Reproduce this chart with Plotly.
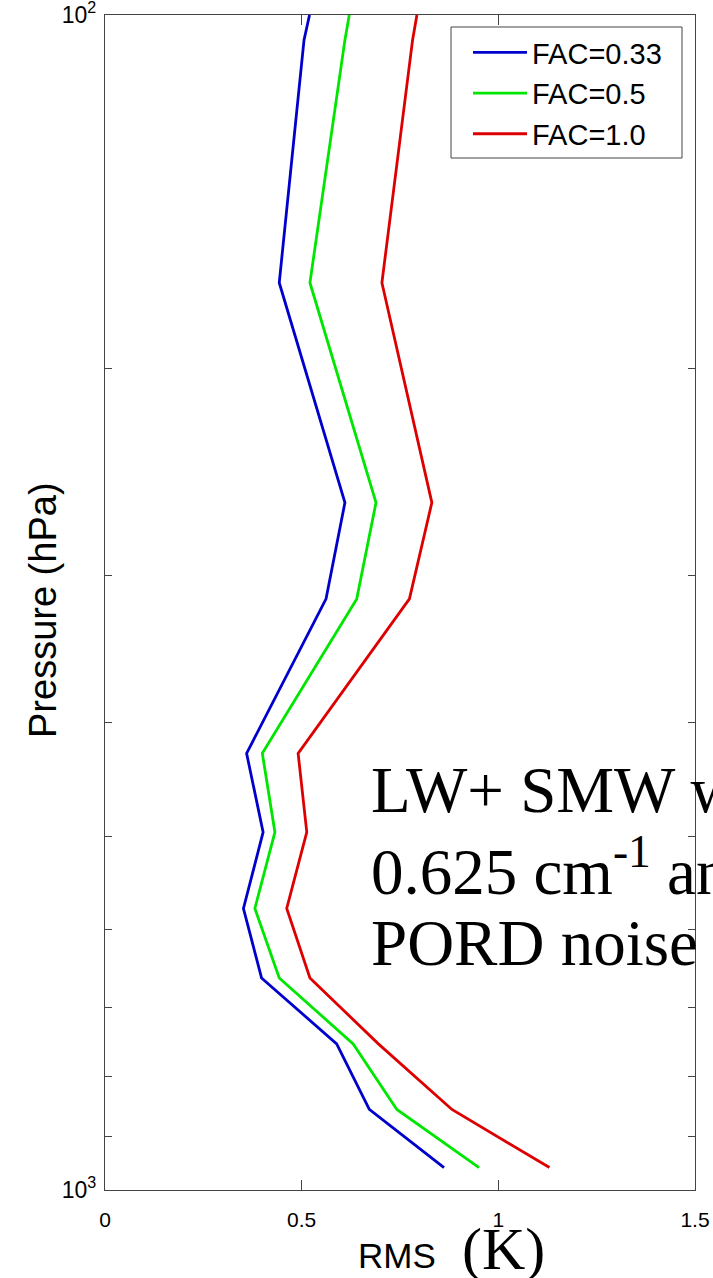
import plotly.graph_objects as go

# ---- data ----
pressure = [100, 105, 169, 260, 314, 425, 496, 576, 660, 751, 854, 957]
fac_033 = [0.520, 0.506, 0.443, 0.610, 0.562, 0.360, 0.402, 0.352, 0.398, 0.589, 0.672, 0.862]
fac_05 = [0.621, 0.610, 0.521, 0.689, 0.640, 0.400, 0.432, 0.381, 0.443, 0.631, 0.742, 0.951]
fac_10 = [0.793, 0.782, 0.704, 0.831, 0.774, 0.491, 0.513, 0.462, 0.521, 0.695, 0.882, 1.130]

series_names = ["FAC=0.33", "FAC=0.5", "FAC=1.0"]
series_values = [fac_033, fac_05, fac_10]
series_colors = ["#0000cc", "#00e600", "#dd0000"]

x_tickvals = [0, 0.5, 1, 1.5]
x_ticktext = ["0", "0.5", "1", "1.5"]
y_tickvals = [100, 1000]
y_ticktext = ["10<sup>2</sup>", "10<sup>3</sup>"]
y_minor_tickvals = [200, 300, 400, 500, 600, 700, 800, 900]

note_lines = ["LW+ SMW with", "0.625 cm<sup>-1</sup> and", "PORD noise reduced"]

SANS = "Liberation Sans, Arial, sans-serif"
SERIF = "Liberation Serif, Times New Roman, serif"

# plot-area pixel frame (for placing paper-referenced decorations)
PL, PR, PT, PB = 105, 695, 15, 1190


def px(xp):
    return (xp - PL) / (PR - PL)


def py(yp):
    return (PB - yp) / (PB - PT)


fig = go.Figure()
for i, (name, vals, col) in enumerate(zip(series_names, series_values, series_colors)):
    fig.add_trace(go.Scatter(
        x=vals, y=pressure, mode="lines", name=name,
        line=dict(color=col, width=2.8), legendgroup=f"g{i}",
    ))

fig.update_layout(
    width=713, height=1278,
    margin=dict(l=PL, r=713 - PR, t=PT, b=1278 - PB),
    paper_bgcolor="white", plot_bgcolor="white",
    font=dict(family=SANS, color="black"),
    showlegend=True,
    legend=dict(
        x=px(468), y=py(27), xanchor="left", yanchor="top",
        bgcolor="rgba(0,0,0,0)", borderwidth=0,
        font=dict(family=SANS, size=29, color="black"),
        tracegroupgap=0, itemwidth=54,
    ),
    xaxis=dict(
        range=[0, 1.5], tickvals=x_tickvals, ticktext=x_ticktext,
        ticks="inside", ticklen=10, tickcolor="#444",
        showline=True, linecolor="#444", linewidth=1.2, mirror="ticks",
        showgrid=False, zeroline=False, automargin=False,
        tickfont=dict(family=SANS, size=21, color="black"),
        ticklabelstandoff=11, ticklabeloverflow="allow",
    ),
    yaxis=dict(
        type="log", range=[3, 2], tickvals=y_tickvals, ticktext=y_ticktext,
        ticks="inside", ticklen=7, tickcolor="#444",
        minor=dict(tickvals=y_minor_tickvals, ticks="inside", ticklen=7,
                   tickcolor="#444", showgrid=False),
        showline=True, linecolor="#444", linewidth=1.2, mirror="ticks",
        showgrid=False, zeroline=False, automargin=False,
        tickfont=dict(family=SANS, size=23, color="black"),
        ticklabelstandoff=3, ticklabeloverflow="allow",
    ),
)

# legend frame
fig.add_shape(type="rect", xref="paper", yref="paper",
              x0=px(451), x1=px(682), y0=py(158), y1=py(27),
              fillcolor="white", line=dict(color="#444", width=1), layer="above")

# axis titles
fig.add_annotation(xref="paper", yref="paper", x=px(43), y=py(610),
                   text="Pressure (hPa)", textangle=-90, showarrow=False,
                   font=dict(family=SANS, size=38, color="black"),
                   xanchor="center", yanchor="middle")
fig.add_annotation(xref="paper", yref="paper", x=px(356), y=py(1255),
                   text="RMS", showarrow=False,
                   font=dict(family=SANS, size=35, color="black"),
                   xanchor="left", yanchor="middle")
fig.add_annotation(xref="paper", yref="paper", x=px(460), y=py(1249),
                   text="(K)", showarrow=False,
                   font=dict(family=SERIF, size=60, color="black"),
                   xanchor="left", yanchor="middle")

# overlay text (clipped by page edge as in the reference)
for line_text, base in zip(note_lines, [810, 887, 963]):
    fig.add_annotation(xref="paper", yref="paper", x=px(369), y=py(base - 20),
                       text=line_text, align="left", showarrow=False,
                       font=dict(family=SERIF, size=65, color="black"),
                       xanchor="left", yanchor="middle")

fig.write_html("out.html")
